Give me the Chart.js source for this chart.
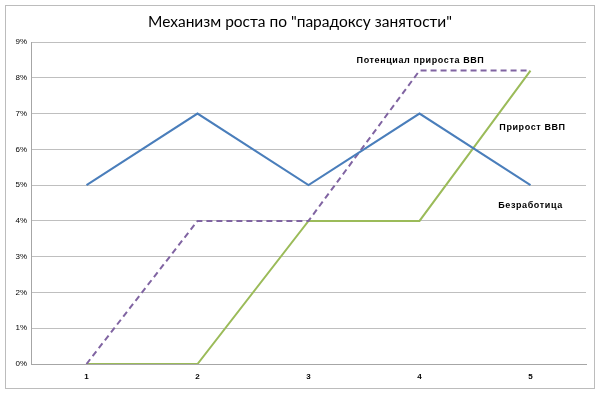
<!DOCTYPE html>
<html><head><meta charset="utf-8">
<script src="https://cdn.jsdelivr.net/npm/chart.js@4/dist/chart.umd.min.js"></script>
<style>
html,body{margin:0;padding:0;background:#fff;}
#wrap{position:relative;width:600px;height:394px;}
#frame{position:absolute;left:5px;top:5px;width:588px;height:382px;border:1px solid #bcbcbc;pointer-events:none;}
canvas{position:absolute;left:0;top:0;}
</style></head>
<body>
<div id="wrap"><canvas id="c" width="600" height="394"></canvas><div id="frame"></div></div>
<script>
const categories = ['1','2','3','4','5'];
const unemployment = [5, 7, 5, 7, 5];
const potentialGrowth = [0, 4, 4, 8.2, 8.2];
const gdpGrowth = [0, 0, 4, 4, 8.2];
const seriesNames = ['Безработица', 'Потенциал прироста ВВП', 'Прирост ВВП'];
const titleText = 'Механизм роста по "парадоксу занятости"';

const overlay = {
  id: 'overlay',
  afterDraw(chart) {
    const ctx = chart.ctx, x = chart.scales.x, y = chart.scales.y;
    ctx.save();
    ctx.fillStyle = '#000';
    ctx.textAlign = 'center';
    ctx.textBaseline = 'middle';
    ctx.font = '15.5px Lato, sans-serif';
    ctx.fillText(titleText, 300, 22);
    ctx.font = 'bold 9px "Liberation Sans", sans-serif';
    ctx.letterSpacing = '0.6px';
    ctx.fillText(seriesNames[1], x.getPixelForValue(3) + 1, y.getPixelForValue(potentialGrowth[3]) - 10);
    ctx.fillText(seriesNames[2], x.getPixelForValue(4) + 2, y.getPixelForValue(6.6));
    ctx.fillText(seriesNames[0], x.getPixelForValue(4), y.getPixelForValue(unemployment[4]) + 20);
    ctx.restore();
  }
};

new Chart(document.getElementById('c'), {
  type: 'line',
  data: {
    labels: categories,
    datasets: [
      {label: seriesNames[0], data: unemployment, borderColor: '#4a7ebb', borderWidth: 2, pointRadius: 0, tension: 0, fill: false},
      {label: seriesNames[1], data: potentialGrowth, borderColor: '#8064a2', borderWidth: 2, borderDash: [6, 4], pointRadius: 0, tension: 0, fill: false},
      {label: seriesNames[2], data: gdpGrowth, borderColor: '#9bbb59', borderWidth: 2, pointRadius: 0, tension: 0, fill: false}
    ]
  },
  options: {
    responsive: false,
    animation: false,
    devicePixelRatio: 1,
    layout: {padding: {left: 0, right: 14, top: 42, bottom: 0}},
    plugins: {legend: {display: false}, title: {display: false}, tooltip: {enabled: false}},
    scales: {
      x: {
        offset: true,
        grid: {display: false, drawTicks: false},
        border: {color: '#a6a6a6', width: 1},
        ticks: {color: '#000', font: {family: '"Liberation Sans", sans-serif', size: 8, weight: 'bold'}, padding: 8},
        afterFit(s) { s.height = 30; }
      },
      y: {
        min: 0, max: 9,
        grid: {color: '#bfbfbf', lineWidth: 1, drawTicks: false},
        border: {color: '#a6a6a6', width: 1},
        ticks: {stepSize: 1, color: '#000', padding: 4, font: {family: '"Liberation Sans", sans-serif', size: 8}, callback: v => v + '%'},
        afterFit(s) { s.width = 31; }
      }
    }
  },
  plugins: [overlay]
});
</script>
</body></html>
